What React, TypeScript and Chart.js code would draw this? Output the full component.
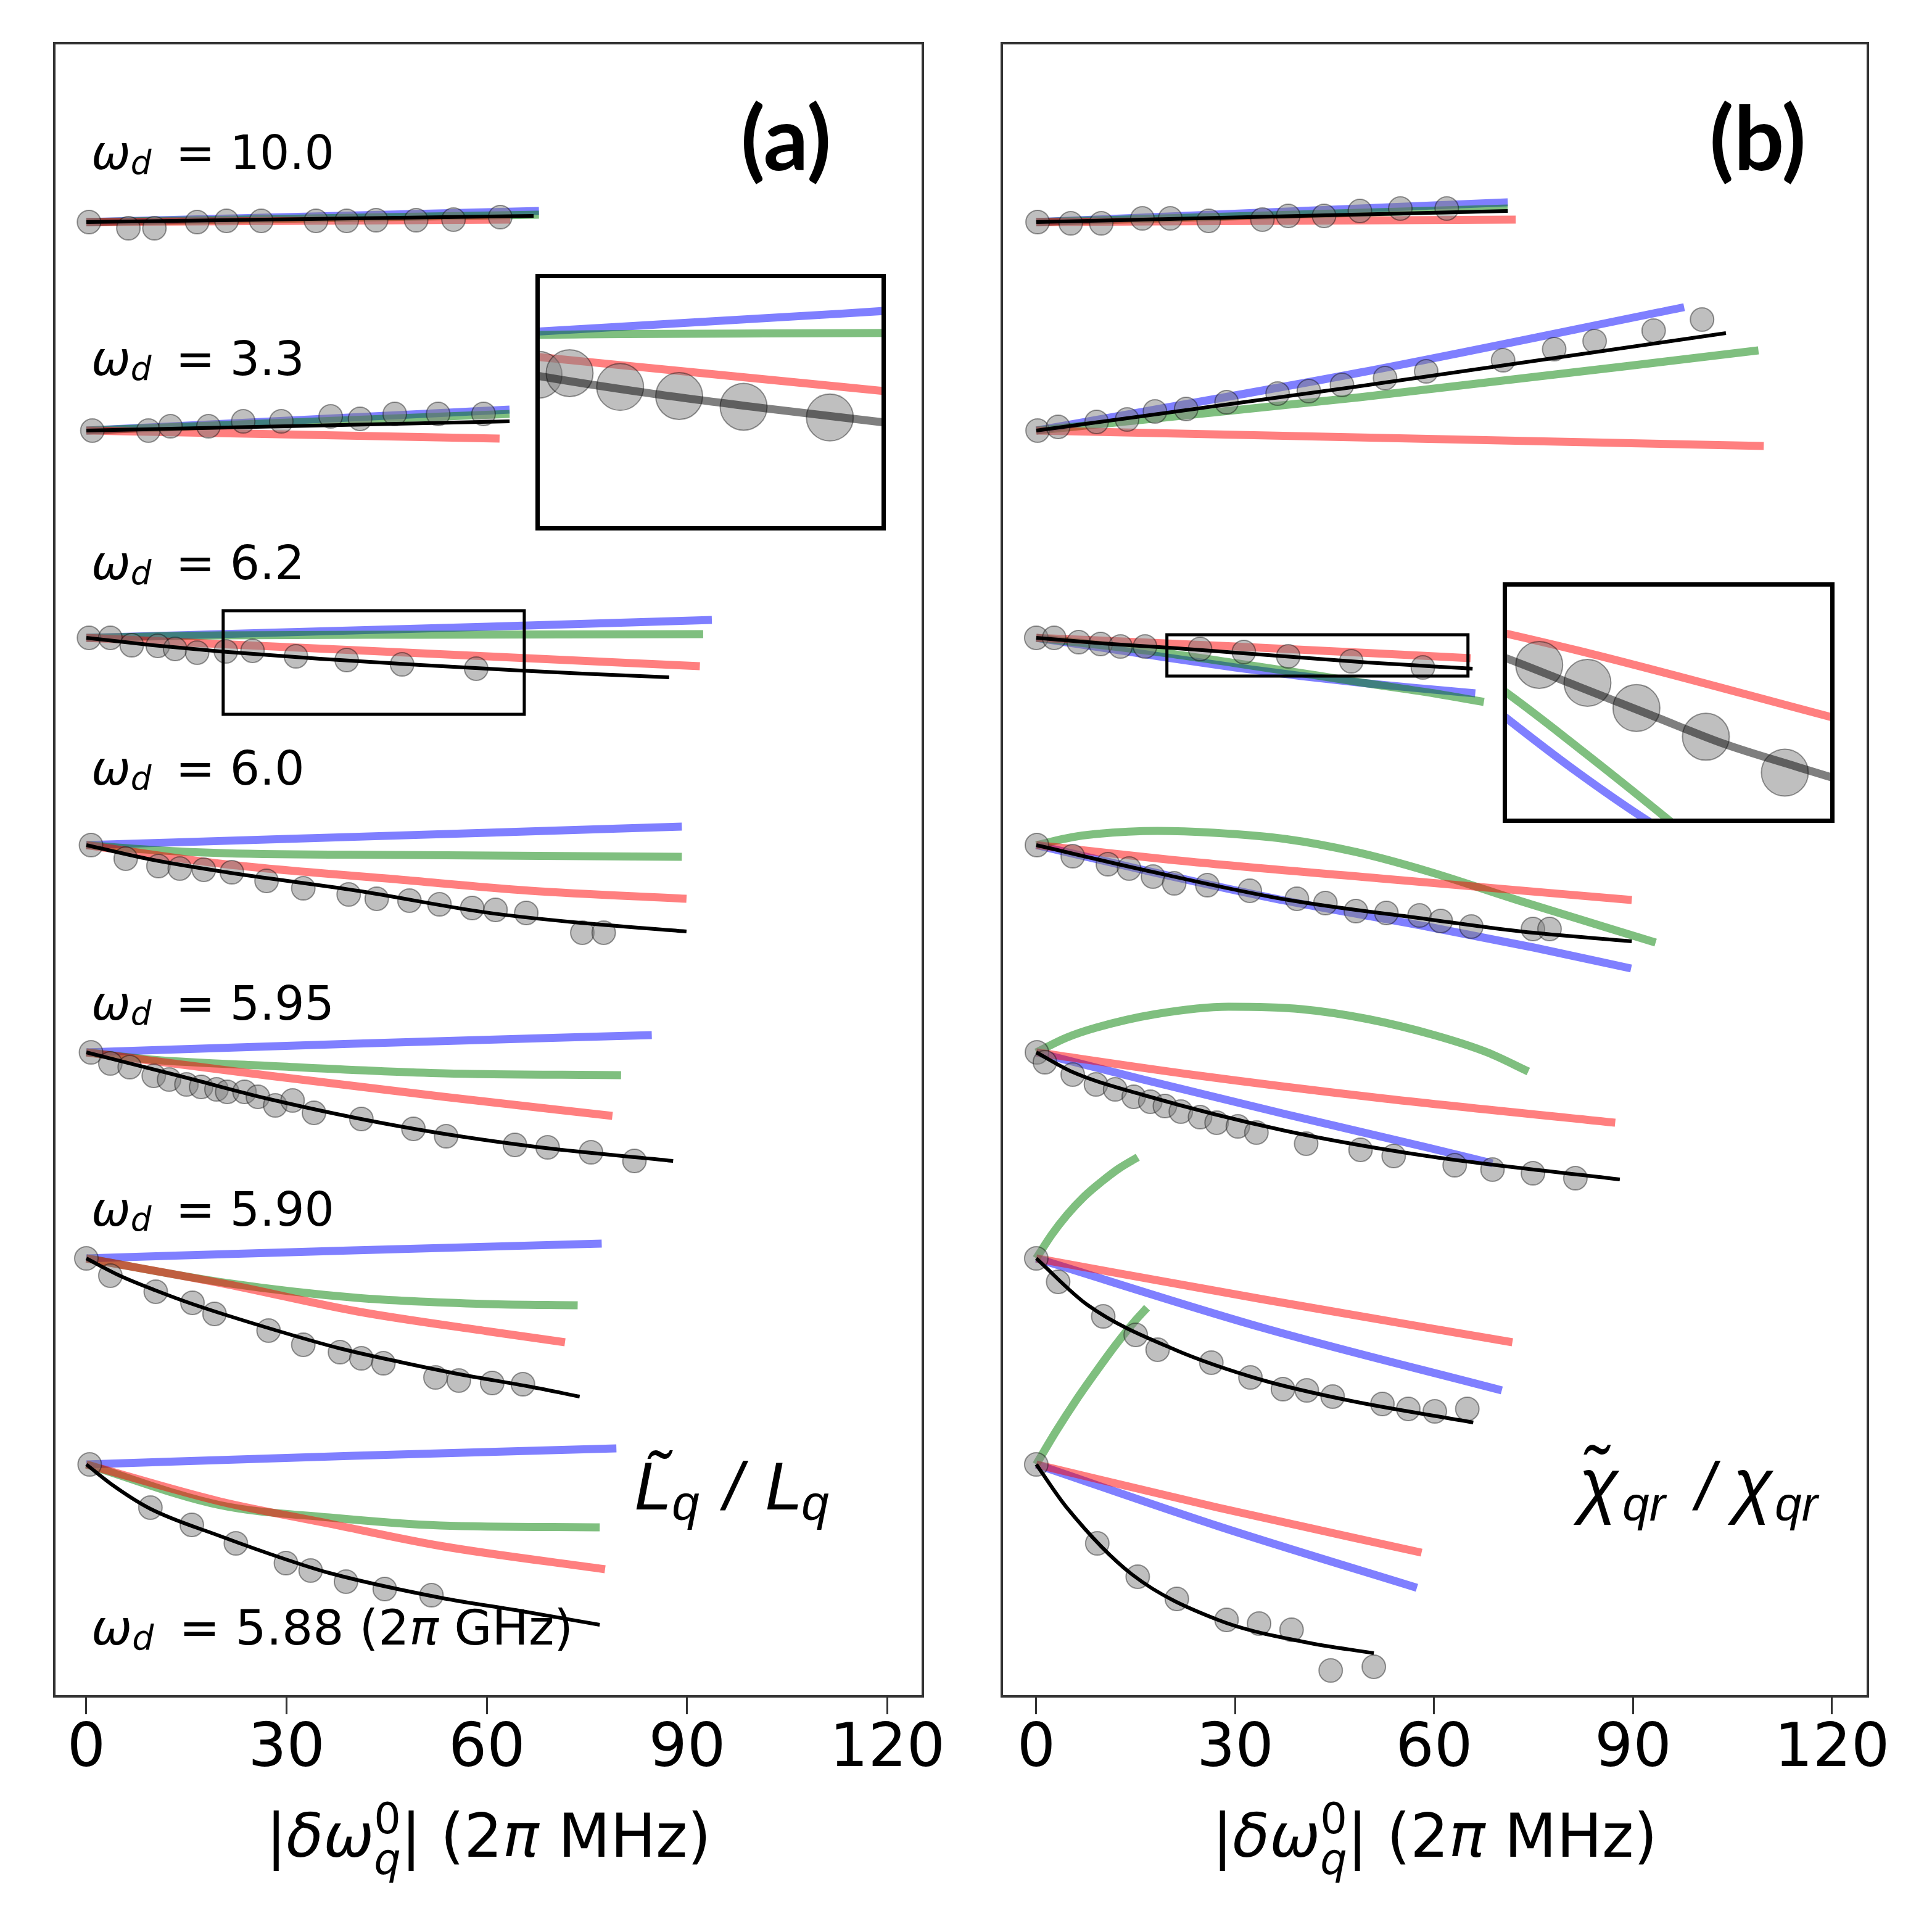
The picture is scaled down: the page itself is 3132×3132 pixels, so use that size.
import React, { useEffect, useRef } from 'react';
import { Chart, registerables } from 'chart.js';

Chart.register(...registerables);

type XY = [number, number][];

// ---------- shared axis data ----------
const xTicks = [0, 30, 60, 90, 120];
const xRangeA = [-4.8, 125.3];
const xRangeB = [-5.2, 125.4];
const yRange = [0, 13.4];
// vertical offsets of the seven stacked curve groups (top to bottom)
const rowOffsets = [11.95, 10.26, 8.58, 6.9, 5.22, 3.55, 1.88];
const driveValues = ['10.0', '3.3', '6.2', '6.0', '5.95', '5.90', '5.88'];
const driveLabelY = [12.378, 10.71, 9.054, 7.39, 5.487, 3.813, 0.422];
const driveLabelX = 0.75;

// ---------- panel (a): L~q / Lq   [x = |dw_q^0| (2pi MHz), deviation] ----------
const a1Points: XY = [[0.4, 0], [6.3, -0.05], [10.2, -0.05], [16.6, 0], [21, 0.01], [26.2, 0.01], [34.4, 0.01], [39, 0.01], [43.4, 0.015], [49.4, 0.015], [55, 0.02], [62, 0.04]];
const a1Blue: XY = [[0, 0], [67.8, 0.09]];
const a1Green: XY = [[0, 0], [67.8, 0.06]];
const a1Red: XY = [[0, 0], [63.5, 0.02]];
const a1Black: XY = [[0, 0], [67, 0.05]];

const a2Points: XY = [[0.9, 0], [9.3, 0], [12.6, 0.035], [18.3, 0.035], [23.5, 0.075], [29.2, 0.075], [36.6, 0.115], [41, 0.095], [46.2, 0.135], [52.7, 0.135], [59.5, 0.135]];
const a2Blue: XY = [[0, 0], [63.4, 0.17]];
const a2Green: XY = [[0, 0], [63.4, 0.135]];
const a2Red: XY = [[0, 0], [61.9, -0.065]];
const a2Black: XY = [[0, 0], [63.4, 0.075]];

const a3Points: XY = [[0.4, 0], [3.6, 0], [6.8, -0.06], [10.7, -0.065], [13.3, -0.09], [16.6, -0.12], [20.9, -0.11], [24.9, -0.105], [31.4, -0.15], [39, -0.18], [47.3, -0.215], [58.4, -0.25]];
const a3Blue: XY = [[0, 0], [30, 0.045], [60, 0.09], [93.7, 0.145]];
const a3Green: XY = [[0, 0], [20, 0.02], [50, 0.025], [92.4, 0.03]];
const a3Red: XY = [[0, 0], [30, -0.075], [60, -0.15], [91.9, -0.23]];
const a3Black: XY = [[0, 0], [10, -0.06], [20, -0.11], [35, -0.17], [50, -0.22], [65, -0.265], [74.3, -0.29], [87.3, -0.32]];

const a4Points: XY = [[0.7, 0], [5.9, -0.11], [10.8, -0.17], [14, -0.19], [17.6, -0.2], [21.8, -0.22], [27, -0.29], [32.5, -0.35], [39.3, -0.4], [43.5, -0.435], [48.4, -0.45], [52.9, -0.48], [57.8, -0.51], [61.3, -0.525], [65.9, -0.55], [74.3, -0.71], [77.5, -0.71]];
const a4Blue: XY = [[0, 0], [30, 0.05], [60, 0.1], [89.2, 0.15]];
const a4Green: XY = [[0, 0], [10, -0.04], [21, -0.066], [47, -0.08], [89.2, -0.095]];
const a4Red: XY = [[0, 0], [21, -0.156], [47, -0.28], [66.5, -0.37], [89.9, -0.435]];
const a4Black: XY = [[0, 0], [10, -0.12], [21, -0.22], [40.6, -0.37], [60, -0.547], [73, -0.625], [89.9, -0.7]];

const a5Points: XY = [[0.7, 0], [3.6, -0.09], [6.5, -0.12], [10.1, -0.19], [12.4, -0.22], [15, -0.26], [17.2, -0.28], [19.5, -0.3], [21.1, -0.32], [23.7, -0.32], [25.7, -0.36], [28.3, -0.43], [30.9, -0.39], [34.1, -0.49], [41.2, -0.54], [49, -0.62], [53.9, -0.68], [64.2, -0.75], [69.1, -0.77], [75.6, -0.81], [82.1, -0.88]];
const a5Blue: XY = [[0, 0], [40, 0.07], [84.7, 0.14]];
const a5Green: XY = [[0, 0], [10, -0.06], [27.5, -0.11], [53.5, -0.17], [80.1, -0.185]];
const a5Red: XY = [[0, 0], [27.5, -0.19], [53.5, -0.36], [78.8, -0.515]];
const a5Black: XY = [[0, 0], [14.6, -0.2], [27.5, -0.38], [47, -0.6], [66.5, -0.76], [87.9, -0.88]];

const a6Points: XY = [[0, 0], [3.6, -0.14], [10.4, -0.27], [15.9, -0.36], [19.2, -0.45], [27.3, -0.585], [32.5, -0.7], [38, -0.76], [41.2, -0.81], [44.5, -0.85], [52.3, -0.965], [55.8, -0.99], [60.8, -1.01], [65.4, -1.02]];
const a6Blue: XY = [[0, 0], [40, 0.065], [77.2, 0.12]];
const a6Green: XY = [[0, 0], [21.1, -0.2], [40.6, -0.32], [60, -0.37], [73.6, -0.38]];
const a6Red: XY = [[0, 0], [21.1, -0.21], [40.6, -0.43], [60, -0.59], [71.7, -0.68]];
const a6Black: XY = [[0, 0], [5, -0.14], [10.4, -0.26], [15.9, -0.37], [27.6, -0.57], [38, -0.73], [47, -0.84], [56, -0.94], [66.5, -1.04], [73.9, -1.12]];

const a7Points: XY = [[0.5, 0], [9.6, -0.35], [15.8, -0.49], [22.4, -0.64], [29.9, -0.8], [33.6, -0.86], [38.9, -0.95], [44.7, -1.01], [51.7, -1.06]];
const a7Blue: XY = [[0, 0], [40, 0.07], [79.4, 0.13]];
const a7Green: XY = [[0, 0], [20, -0.33], [36.4, -0.43], [53, -0.495], [76.9, -0.51]];
const a7Red: XY = [[0, 0], [20, -0.3], [36.4, -0.48], [53, -0.66], [77.7, -0.85]];
const a7Black: XY = [[0, 0], [4, -0.17], [9.6, -0.36], [20, -0.58], [29.9, -0.77], [36.4, -0.88], [53, -1.08], [65.3, -1.19], [76.9, -1.3]];

// ---------- panel (b): chi~qr / chi_qr ----------
const b1Points: XY = [[0.2, 0], [5.2, -0.01], [9.8, -0.01], [16, 0.03], [20.2, 0.03], [26, 0.01], [34.1, 0.02], [38, 0.05], [43.4, 0.05], [48.8, 0.09], [54.9, 0.11], [61.9, 0.11]];
const b1Blue: XY = [[0, 0], [71.1, 0.16]];
const b1Green: XY = [[0, 0], [71.1, 0.11]];
const b1Red: XY = [[0, 0], [72.3, 0.02]];
const b1Black: XY = [[0, 0], [71.1, 0.09]];

const b2Points: XY = [[0.2, 0], [3.3, 0.03], [9.1, 0.07], [13.7, 0.09], [17.9, 0.155], [22.6, 0.175], [28.7, 0.23], [36.4, 0.3], [41.1, 0.32], [46.1, 0.37], [52.6, 0.425], [58.8, 0.48], [70.4, 0.57], [78.1, 0.66], [84.2, 0.725], [93.1, 0.81], [100.4, 0.9]];
const b2Blue: XY = [[0, 0], [48.8, 0.47], [97.7, 1.0]];
const b2Green: XY = [[0, 0], [48.8, 0.27], [108.9, 0.65]];
const b2Red: XY = [[0, 0], [109.7, -0.125]];
const b2Black: XY = [[0, 0], [48.8, 0.36], [104, 0.79]];

const b3Points: XY = [[0, 0], [2.7, 0], [6.4, -0.035], [9.7, -0.05], [12.7, -0.07], [16.4, -0.07], [24.7, -0.09], [31.3, -0.115], [38, -0.15], [47.5, -0.19], [58.3, -0.24]];
const b3Blue: XY = [[0, 0], [10, -0.08], [19.7, -0.16], [30, -0.24], [40, -0.31], [50, -0.37], [60, -0.42], [66.2, -0.45]];
const b3Green: XY = [[0, 0], [10, -0.06], [19.7, -0.125], [30, -0.205], [42.3, -0.305], [50, -0.37], [60, -0.45], [67.5, -0.52]];
const b3Red: XY = [[0, 0], [30, -0.07], [65.5, -0.165]];
const b3Black: XY = [[0, 0], [10, -0.045], [20, -0.08], [30, -0.12], [40, -0.16], [50, -0.2], [60, -0.232], [65.8, -0.25]];

const b4Points: XY = [[0.1, 0], [5.5, -0.09], [10.8, -0.155], [14, -0.19], [17.6, -0.255], [20.8, -0.31], [25.8, -0.325], [32.2, -0.37], [39.3, -0.435], [43.6, -0.47], [48.2, -0.535], [52.8, -0.55], [57.8, -0.57], [61, -0.615], [65.6, -0.66], [74.9, -0.68], [77.4, -0.68]];
const b4Blue: XY = [[0, 0], [16, -0.2], [37.5, -0.45], [58.9, -0.66], [75, -0.83], [89.7, -1.0]];
const b4Green: XY = [[0, 0], [5.5, 0.065], [9, 0.09], [18.3, 0.115], [26.8, 0.1], [37.5, 0.05], [48.2, -0.056], [58.9, -0.21], [73.1, -0.455], [93.4, -0.79]];
const b4Red: XY = [[0, 0], [23.3, -0.135], [51.8, -0.27], [89.8, -0.445]];
const b4Black: XY = [[0, 0], [16.1, -0.2], [37.5, -0.44], [58.9, -0.6], [73.1, -0.7], [89.8, -0.78]];

const b5Points: XY = [[0.1, 0], [1.3, -0.08], [5.5, -0.18], [9, -0.26], [11.9, -0.3], [14.7, -0.36], [17.2, -0.4], [19.4, -0.435], [21.8, -0.48], [24.7, -0.525], [27.2, -0.57], [30.4, -0.6], [33.2, -0.65], [40.7, -0.74], [48.9, -0.79], [53.9, -0.84], [63.1, -0.915], [68.8, -0.95], [74.9, -0.98], [81.3, -1.02]];
const b5Blue: XY = [[0, 0], [16.1, -0.22], [37.5, -0.5], [58.9, -0.77], [68.8, -0.9]];
const b5Green: XY = [[0, 0], [4.6, 0.12], [9, 0.2], [18, 0.31], [29, 0.37], [40, 0.35], [50, 0.27], [60, 0.14], [68, 0.0], [74.2, -0.155]];
const b5Red: XY = [[0, 0], [23.3, -0.18], [51.8, -0.37], [87.3, -0.57]];
const b5Black: XY = [[0, 0], [5.5, -0.16], [16.1, -0.345], [37.5, -0.635], [58.9, -0.84], [88, -1.03]];

const b6Points: XY = [[0, 0], [3.3, -0.19], [10.1, -0.47], [15, -0.62], [18.3, -0.74], [26.4, -0.845], [32.3, -0.965], [37.2, -1.06], [40.8, -1.07], [44.7, -1.12], [52.2, -1.18], [56.1, -1.22], [60.1, -1.24], [65, -1.22]];
const b6Blue: XY = [[0, 0], [34, -0.56], [70.2, -1.07]];
const b6Green: XY = [[0, 0], [2.3, 0.19], [4.6, 0.35], [7.2, 0.5], [9.8, 0.62], [12.5, 0.73], [15.3, 0.82]];
const b6Red: XY = [[0, 0], [34, -0.33], [71.8, -0.68]];
const b6Black: XY = [[0, 0], [7.8, -0.38], [20.9, -0.74], [34, -0.985], [47, -1.15], [65.9, -1.33]];

const b7Points: XY = [[0, 0], [9.2, -0.64], [15.3, -0.91], [21.2, -1.09], [28.7, -1.26], [33.6, -1.29], [38.5, -1.34], [44.4, -1.67], [50.9, -1.64]];
const b7Blue: XY = [[0, 0], [27.4, -0.5], [57.4, -1.0]];
const b7Green: XY = [[0, 0], [3, 0.27], [6, 0.52], [9, 0.75], [12, 0.97], [15, 1.17], [16.7, 1.27]];
const b7Red: XY = [[0, 0], [27.4, -0.35], [58.1, -0.715]];
const b7Black: XY = [[0, 0], [4.6, -0.35], [14.4, -0.89], [27.4, -1.26], [40.5, -1.44], [50.9, -1.53]];

// ---------- zoom insets (magnified views of the third group) ----------
const insetAX = [20.5, 65.6];
const insetADev = [-0.62, 0.22];
const insetBX = [19.7, 65.1];
const insetBDev = [-0.31, 0.025];

// ---------- styles ----------
const BLUE = 'rgba(0,0,255,0.5)';
const GREEN = 'rgba(0,128,0,0.5)';
const RED = 'rgba(255,0,0,0.5)';
const MARK_FILL = 'rgba(128,128,128,0.5)';
const MARK_EDGE = 'rgba(0,0,0,0.4)';

type Row = { pts: XY; blue: XY; green: XY; red: XY; black: XY };

const panelARows: Row[] = [
  { pts: a1Points, blue: a1Blue, green: a1Green, red: a1Red, black: a1Black },
  { pts: a2Points, blue: a2Blue, green: a2Green, red: a2Red, black: a2Black },
  { pts: a3Points, blue: a3Blue, green: a3Green, red: a3Red, black: a3Black },
  { pts: a4Points, blue: a4Blue, green: a4Green, red: a4Red, black: a4Black },
  { pts: a5Points, blue: a5Blue, green: a5Green, red: a5Red, black: a5Black },
  { pts: a6Points, blue: a6Blue, green: a6Green, red: a6Red, black: a6Black },
  { pts: a7Points, blue: a7Blue, green: a7Green, red: a7Red, black: a7Black },
];
const panelBRows: Row[] = [
  { pts: b1Points, blue: b1Blue, green: b1Green, red: b1Red, black: b1Black },
  { pts: b2Points, blue: b2Blue, green: b2Green, red: b2Red, black: b2Black },
  { pts: b3Points, blue: b3Blue, green: b3Green, red: b3Red, black: b3Black },
  { pts: b4Points, blue: b4Blue, green: b4Green, red: b4Red, black: b4Black },
  { pts: b5Points, blue: b5Blue, green: b5Green, red: b5Red, black: b5Black },
  { pts: b6Points, blue: b6Blue, green: b6Green, red: b6Red, black: b6Black },
  { pts: b7Points, blue: b7Blue, green: b7Green, red: b7Red, black: b7Black },
];

const toXY = (arr: XY, off: number) => arr.map(([x, d]) => ({ x, y: off + d }));

function lineDs(arr: XY, off: number, color: string, width: number, order: number) {
  return {
    data: toXY(arr, off),
    borderColor: color,
    backgroundColor: color,
    borderWidth: width,
    pointRadius: 0,
    pointHoverRadius: 0,
    fill: false,
    cubicInterpolationMode: 'monotone',
    borderCapStyle: 'butt',
    borderJoinStyle: 'round',
    order,
  };
}

function pointDs(arr: XY, off: number, r: number, order: number) {
  return {
    data: toXY(arr, off),
    showLine: false,
    pointRadius: r,
    pointHoverRadius: r,
    pointBackgroundColor: MARK_FILL,
    pointBorderColor: MARK_EDGE,
    pointBorderWidth: 2,
    borderColor: 'rgba(0,0,0,0)',
    backgroundColor: MARK_FILL,
    order,
  };
}

function rowDatasets(r: Row, off: number, inset: boolean) {
  const lw = 13;
  return [
    lineDs(r.blue, off, BLUE, lw, 4),
    lineDs(r.green, off, GREEN, lw, 3),
    lineDs(r.red, off, RED, lw, 2),
    pointDs(r.pts, off, inset ? 38 : 19, 1),
    lineDs(r.black, off, inset ? 'rgba(0,0,0,0.5)' : '#000', inset ? 13 : 6, 0),
  ];
}

// ---------- rich text helper ----------
type Run = { t: string; it?: boolean; bold?: boolean; sub?: boolean; sup?: boolean; stay?: boolean; size?: number; dy?: number; at?: number };

function runFont(r: Run, size: number, family: string) {
  const s = r.size ?? (r.sub || r.sup ? size * 0.7 : size);
  return `${r.it ? 'italic ' : ''}${r.bold ? 'bold ' : ''}${s}px "${family}"`;
}
function measureRuns(ctx: CanvasRenderingContext2D, runs: Run[], size: number, family: string) {
  let w = 0;
  for (const r of runs) {
    if (r.at !== undefined) w = r.at;
    ctx.font = runFont(r, size, family);
    if (!r.stay) w += ctx.measureText(r.t).width;
  }
  return w;
}
function drawRuns(ctx: CanvasRenderingContext2D, x: number, y: number, runs: Run[], size: number, family: string) {
  let cx = x;
  ctx.textBaseline = 'alphabetic';
  ctx.textAlign = 'left';
  ctx.fillStyle = '#000';
  for (const r of runs) {
    if (r.at !== undefined) cx = x + r.at;
    ctx.font = runFont(r, size, family);
    const dy = r.dy ?? (r.sub ? size * 0.12 : r.sup ? -size * 0.39 : 0);
    ctx.fillText(r.t, cx, y + dy);
    if (!r.stay) cx += ctx.measureText(r.t).width;
  }
}

const axisTitleRuns: Run[] = [
  { t: '|' },
  { t: 'δω', it: true },
  { t: 'q', it: true, sub: true, stay: true, dy: 28 },
  { t: '0', sup: true },
  { t: '| (2' },
  { t: 'π', it: true },
  { t: ' MHz)' },
];

function drawCommon(chart: any, insetX: number[], insetDev: number[]) {
  const { ctx, chartArea: ca } = chart;
  const xs = chart.scales.x;
  const ys = chart.scales.y;
  // zoom rectangle marking the inset region
  const bx0 = xs.getPixelForValue(insetX[0]);
  const bx1 = xs.getPixelForValue(insetX[1]);
  const by0 = ys.getPixelForValue(rowOffsets[2] + insetDev[1]);
  const by1 = ys.getPixelForValue(rowOffsets[2] + insetDev[0]);
  ctx.strokeStyle = '#000';
  ctx.lineWidth = 5;
  ctx.strokeRect(bx0, by0, bx1 - bx0, by1 - by0);
  // axes frame
  ctx.strokeStyle = '#333';
  ctx.lineWidth = 4;
  ctx.strokeRect(ca.left, ca.top, ca.right - ca.left, ca.bottom - ca.top);
  // x-axis title
  const w = measureRuns(ctx, axisTitleRuns, 98, 'DejaVu Sans');
  drawRuns(ctx, (ca.left + ca.right) / 2 - w / 2, ca.bottom + 260, axisTitleRuns, 98, 'DejaVu Sans');
}

const decoA = {
  id: 'decoA',
  afterDraw(chart: any) {
    const { ctx } = chart;
    const xs = chart.scales.x;
    const ys = chart.scales.y;
    ctx.save();
    drawCommon(chart, insetAX, insetADev);
    driveValues.forEach((v, i) => {
      const last = i === driveValues.length - 1;
      const runs: Run[] = [{ t: 'ω', it: true }, { t: 'd', it: true, sub: true, dy: 8 }];
      if (last) {
        runs.push({ t: ' \u2009= ' + v + ' (2' }, { t: 'π', it: true }, { t: ' GHz)' });
      } else {
        runs.push({ t: ' \u2009= ' + v });
      }
      drawRuns(ctx, xs.getPixelForValue(driveLabelX), ys.getPixelForValue(driveLabelY[i]), runs, last ? 79 : 76, 'DejaVu Sans');
    });
    // panel tag
    ctx.font = 'bold 144px Lato';
    ctx.textAlign = 'center';
    ctx.textBaseline = 'alphabetic';
    ctx.fillStyle = '#000';
    ctx.fillText('(a)', xs.getPixelForValue(104.8), ys.getPixelForValue(12.37));
    // quantity label
    const lab: Run[] = [
      { t: 'L\u0303', it: true, size: 110 },
      { t: 'q', it: true, size: 80, dy: 16, at: 61 },
      { t: '/', it: true, size: 110, at: 145 },
      { t: 'L', it: true, size: 110, at: 212 },
      { t: 'q', it: true, size: 80, dy: 16, at: 271 },
    ];
    drawRuns(ctx, xs.getPixelForValue(82.07), ys.getPixelForValue(1.515), lab, 110, 'Liberation Sans');
    ctx.restore();
  },
};

const decoB = {
  id: 'decoB',
  afterDraw(chart: any) {
    const { ctx } = chart;
    const xs = chart.scales.x;
    const ys = chart.scales.y;
    ctx.save();
    drawCommon(chart, insetBX, insetBDev);
    ctx.font = 'bold 144px Lato';
    ctx.textAlign = 'center';
    ctx.textBaseline = 'alphabetic';
    ctx.fillStyle = '#000';
    ctx.fillText('(b)', xs.getPixelForValue(108.8), ys.getPixelForValue(12.37));
    const lab: Run[] = [
      { t: 'χ\u0303', it: true, size: 118 },
      { t: 'qr', it: true, size: 78, dy: 18, at: 71 },
      { t: '/', it: true, size: 110, at: 190 },
      { t: 'χ', it: true, size: 118, at: 250 },
      { t: 'qr', it: true, size: 78, dy: 18, at: 318 },
    ];
    drawRuns(ctx, xs.getPixelForValue(81.8), ys.getPixelForValue(1.515), lab, 118, 'Liberation Sans');
    ctx.restore();
  },
};

function mainConfig(rows: Row[], xr: number[], deco: any): any {
  const datasets: any[] = [];
  rows.forEach((r, i) => datasets.push(...rowDatasets(r, rowOffsets[i], false)));
  return {
    type: 'line',
    data: { datasets },
    options: {
      animation: false,
      responsive: false,
      devicePixelRatio: 1,
      events: [],
      layout: { autoPadding: false, padding: { left: 60, right: 60, top: 10, bottom: 200 } },
      plugins: { legend: { display: false }, tooltip: { enabled: false } },
      scales: {
        x: {
          type: 'linear',
          min: xr[0],
          max: xr[1],
          afterBuildTicks: (s: any) => {
            s.ticks = xTicks.map((v) => ({ value: v }));
          },
          afterFit: (s: any) => {
            s.height = 150;
          },
          ticks: {
            font: { family: 'DejaVu Sans', size: 98 },
            color: '#000',
            padding: 0,
            maxRotation: 0,
            minRotation: 0,
            autoSkip: false,
          },
          grid: {
            display: true,
            drawOnChartArea: false,
            drawTicks: true,
            tickLength: 29,
            tickWidth: 3,
            tickColor: '#333',
          },
          border: { display: false },
        },
        y: { type: 'linear', min: yRange[0], max: yRange[1], display: false },
      },
    },
    plugins: [deco],
  };
}

function insetConfig(r: Row, xr: number[], dr: number[]): any {
  const off = rowOffsets[2];
  return {
    type: 'line',
    data: { datasets: rowDatasets(r, off, true) },
    options: {
      animation: false,
      responsive: false,
      devicePixelRatio: 1,
      events: [],
      layout: { autoPadding: false, padding: 0 },
      plugins: { legend: { display: false }, tooltip: { enabled: false } },
      scales: {
        x: { type: 'linear', min: xr[0], max: xr[1], display: false },
        y: { type: 'linear', min: off + dr[0], max: off + dr[1], display: false },
      },
    },
    plugins: [
      {
        id: 'insetFrame',
        beforeDraw(chart: any) {
          const { ctx, width, height } = chart;
          ctx.save();
          ctx.fillStyle = '#fff';
          ctx.fillRect(0, 0, width, height);
          ctx.restore();
        },
        afterDraw(chart: any) {
          const { ctx, width, height } = chart;
          ctx.save();
          ctx.strokeStyle = '#000';
          ctx.lineWidth = 7;
          ctx.strokeRect(3.5, 3.5, width - 7, height - 7);
          ctx.restore();
        },
      },
    ],
  };
}

export default function App() {
  const refA = useRef<HTMLCanvasElement>(null);
  const refB = useRef<HTMLCanvasElement>(null);
  const refIA = useRef<HTMLCanvasElement>(null);
  const refIB = useRef<HTMLCanvasElement>(null);

  useEffect(() => {
    const charts = [
      new Chart(refA.current as HTMLCanvasElement, mainConfig(panelARows, xRangeA, decoA)),
      new Chart(refB.current as HTMLCanvasElement, mainConfig(panelBRows, xRangeB, decoB)),
      new Chart(refIA.current as HTMLCanvasElement, insetConfig(panelARows[2], insetAX, insetADev)),
      new Chart(refIB.current as HTMLCanvasElement, insetConfig(panelBRows[2], insetBX, insetBDev)),
    ];
    return () => charts.forEach((c) => c.destroy());
  }, []);

  const abs = (left: number, top: number, w: number, h: number): React.CSSProperties => ({
    position: 'absolute',
    left,
    top,
    width: w,
    height: h,
  });

  return (
    <div style={{ position: 'fixed', left: 0, top: 0, width: 3132, height: 3132, background: '#fff', overflow: 'hidden' }}>
      <canvas ref={refA} width={1528} height={3040} style={abs(28, 60, 1528, 3040)} />
      <canvas ref={refB} width={1524} height={3040} style={abs(1564, 60, 1524, 3040)} />
      <canvas ref={refIA} width={568} height={416} style={abs(868, 444, 568, 416)} />
      <canvas ref={refIB} width={538} height={390} style={abs(2436, 944, 538, 390)} />
    </div>
  );
}
